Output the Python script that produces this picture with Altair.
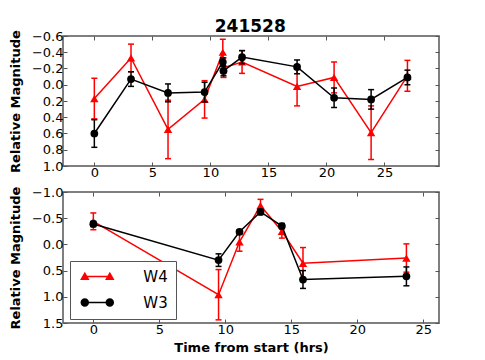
import altair as alt
import pandas as pd

# ---------------- data ----------------
top_t = [0.0, 3.16, 6.35, 9.50, 11.07, 11.13, 12.73, 17.47, 20.66, 23.85, 26.98]
top_w4 = [0.17, -0.33, 0.55, 0.18, -0.40, -0.21, -0.28, 0.02, -0.09, 0.59, -0.11]
top_w4_err = [0.25, 0.17, 0.36, 0.23, 0.16, 0.12, 0.14, 0.24, 0.19, 0.33, 0.19]
top_w3 = [0.60, -0.07, 0.10, 0.09, -0.28, -0.17, -0.34, -0.22, 0.16, 0.18, -0.09]
top_w3_err = [0.17, 0.09, 0.11, 0.12, 0.05, 0.06, 0.08, 0.085, 0.12, 0.12, 0.09]

bot_t = [0.0, 9.49, 11.08, 12.67, 14.29, 15.89, 23.73]
bot_w4 = [-0.44, 0.96, -0.05, -0.74, -0.25, 0.36, 0.26]
bot_w4_err = [0.16, 0.48, 0.18, 0.12, 0.13, 0.30, 0.27]
bot_w3 = [-0.39, 0.30, -0.24, -0.62, -0.35, 0.67, 0.61]
bot_w3_err = [0.05, 0.12, 0.04, 0.05, 0.05, 0.17, 0.18]

series_names = ["W4", "W3"]
series_colors = ["#ff0000", "#000000"]

top_yticks = [-0.6, -0.4, -0.2, 0.0, 0.2, 0.4, 0.6, 0.8, 1.0]
bot_yticks = [-1.0, -0.5, 0.0, 0.5, 1.0, 1.5]
xticks = [0, 5, 10, 15, 20, 25]

TITLE = "241528"
YTITLE = "Relative Magnitude"
XTITLE = "Time from start (hrs)"

# legend symbols: marker - line - marker (matplotlib style)
TRI_PATH = ("M-2.5,-0.95 L-3.45,0.7 L-1.55,0.7 Z "
            "M2.5,-0.95 L1.55,0.7 L3.45,0.7 Z "
            "M-2.5,-0.15 L-2.5,0.15 L2.5,0.15 L2.5,-0.15 Z")
CIRC_PATH = ("M-3.35,0 A0.85,0.85 0 1,0 -1.65,0 A0.85,0.85 0 1,0 -3.35,0 Z "
             "M1.65,0 A0.85,0.85 0 1,0 3.35,0 A0.85,0.85 0 1,0 1.65,0 Z "
             "M-1.7,-0.15 L-1.7,0.15 L1.7,0.15 L1.7,-0.15 Z")

FONT = "DejaVu Sans"
FRAME = "#555555"
W, H1, H2, GAP = 376, 130, 131, 26
NEG_TICK = {"expr": "-4"}


def frame(t, v, e, name):
    return pd.DataFrame({
        "t": t, "v": v,
        "lo": [a - b for a, b in zip(v, e)],
        "hi": [a + b for a, b in zip(v, e)],
        "i": list(range(len(t))),
        "series": name,
    })


def panel(t, w4, w4e, w3, w3e, ydom, yticks, xdom, height, xtitle, legend):
    d4 = frame(t, w4, w4e, "W4")
    d3 = frame(t, w3, w3e, "W3")
    xs = alt.Scale(domain=xdom, nice=False, zero=False)
    ys = alt.Scale(domain=ydom, reverse=True, nice=False, zero=False)

    if xtitle:
        x_main = alt.Axis(orient="bottom", values=xticks, format="d", tickSize=NEG_TICK,
                          labelPadding=4, title=xtitle,
                          titleX=W / 2, titleY=28, titleAlign="center",
                          titleBaseline="alphabetic", minExtent=0)
    else:
        x_main = alt.Axis(orient="bottom", values=xticks, format="d", tickSize=NEG_TICK,
                          labelPadding=4, title=None, minExtent=0)
    y_main = alt.Axis(orient="left", values=yticks, format=".1f", tickSize=NEG_TICK,
                      labelPadding=4, title=YTITLE, titleAngle=270,
                      titleX=-44, titleY=height / 2, titleAlign="center",
                      titleBaseline="alphabetic", minExtent=0)
    x_mirror = alt.Axis(orient="top", values=xticks, labels=False, tickSize=NEG_TICK,
                        title=None, minExtent=0, maxExtent=0)
    y_mirror = alt.Axis(orient="right", values=yticks, labels=False, tickSize=NEG_TICK,
                        title=None, minExtent=0, maxExtent=0)

    def enc_x(axis):
        return alt.X("t:Q", scale=xs, axis=axis)

    def enc_y(field, axis):
        return alt.Y(field, type="quantitative", scale=ys, axis=axis)

    layers = []
    for k, (d, col, shape, size) in enumerate([
            (d4, series_colors[0], "triangle-up", 70),
            (d3, series_colors[1], "circle", 60)]):
        base = alt.Chart(d)
        bar = base.mark_rule(strokeWidth=1.5, color=col).encode(
            x=enc_x(x_main if k == 0 else None),
            y=enc_y("lo", y_main if k == 0 else None),
            y2="hi:Q")
        cap_lo = base.mark_tick(orient="horizontal", size=6, thickness=1.5,
                                color=col, opacity=1).encode(
            x=enc_x(None), y=enc_y("lo", None))
        cap_hi = base.mark_tick(orient="horizontal", size=6, thickness=1.5,
                                color=col, opacity=1).encode(
            x=enc_x(None), y=enc_y("hi", None))
        line = base.mark_line(strokeWidth=1.5, color=col).encode(
            x=enc_x(x_mirror if k == 0 else None),
            y=enc_y("v", y_mirror if k == 0 else None),
            order="i:Q")
        pts = base.mark_point(shape=shape, size=size, filled=True, opacity=1,
                              color=col, strokeWidth=0).encode(
            x=enc_x(None), y=enc_y("v", None))
        layers += [bar, cap_lo, cap_hi, line, pts]

    if legend:
        leg = alt.Chart(pd.concat([d4, d3])).transform_filter("false").mark_point(
            filled=True, opacity=1, size=100).encode(
            x=enc_x(None), y=enc_y("v", None),
            color=alt.Color("series:N",
                            scale=alt.Scale(domain=series_names, range=series_colors),
                            legend=alt.Legend(
                                title=None, orient="none", legendX=7,
                                legendY=H1 + GAP + 69,
                                padding=8, strokeColor=FRAME, fillColor="white",
                                labelFont=FONT, labelFontSize=15, labelColor="black",
                                symbolSize=100, symbolOffset=11.8, labelOffset=38.5,
                                rowPadding=10, symbolStrokeWidth=0)),
            shape=alt.Shape("series:N",
                            scale=alt.Scale(domain=series_names,
                                            range=[TRI_PATH, CIRC_PATH]),
                            legend=None))
        layers.append(leg)

    return alt.layer(*layers).resolve_axis(x="independent", y="independent").properties(
        width=W, height=height)


top = panel(top_t, top_w4, top_w4_err, top_w3, top_w3_err,
            [-0.6, 1.0], top_yticks, [-2.7, 29.7], H1, None, False)

bottom = panel(bot_t, bot_w4, bot_w4_err, bot_w3, bot_w3_err,
               [-1.0, 1.5], bot_yticks, [-2.3, 26.2], H2, XTITLE, True)

chart = alt.vconcat(top, bottom, spacing=GAP, bounds="flush").properties(
    padding={"left": 0, "top": 9, "right": 0, "bottom": 0},
    title=alt.Title(TITLE, font=FONT, fontSize=17, fontWeight="bold", color="black",
                    anchor="middle", offset=-7, dx=26),
).configure_view(stroke=FRAME, strokeWidth=1.5).configure_axis(
    labelFont=FONT, titleFont=FONT, labelFontSize=13, titleFontSize=13,
    titleFontWeight="bold", labelColor="black", titleColor="black",
    tickColor=FRAME, tickWidth=1, domain=False, grid=False)

chart.save("out.html", embed_options={"renderer": "svg", "actions": False})
